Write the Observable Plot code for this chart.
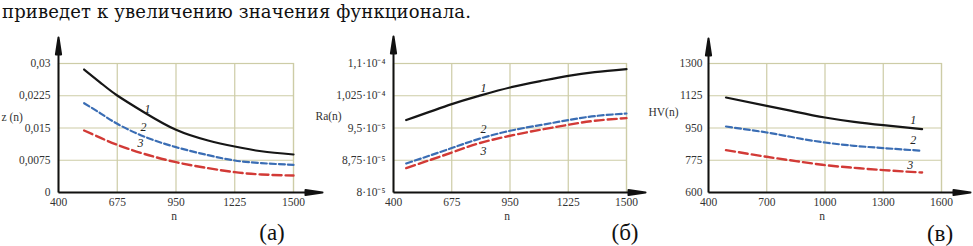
<!DOCTYPE html>
<html><head><meta charset="utf-8">
<script src="https://cdn.jsdelivr.net/npm/d3@7"></script>
<script src="https://cdn.jsdelivr.net/npm/@observablehq/plot@0.6"></script>
<style>
body{margin:0;background:#fff;width:973px;height:246px;overflow:hidden;position:relative}
.panel{position:absolute;top:0}
.panel svg{overflow:visible;background:transparent}
.panel svg, .panel svg text{font-family:"Liberation Serif", serif !important}
#caption{position:absolute;left:2px;top:3px;font-family:"DejaVu Serif";font-size:18px;line-height:18px;letter-spacing:0.15px;white-space:nowrap;color:#111}
.tag{position:absolute;font-family:"Liberation Serif";font-size:23px;line-height:23px;color:#111;transform:translate(-50%,-50%)}
</style></head><body>
<div id="caption">приведет к увеличению значения функционала.</div>
<div id="pa" class="panel" style="left:0px"></div>
<div id="pb" class="panel" style="left:325px"></div>
<div id="pc" class="panel" style="left:645px"></div>
<div class="tag" style="left:272px;top:232px">(а)</div>
<div class="tag" style="left:625px;top:232px">(б)</div>
<div class="tag" style="left:940px;top:233px">(в)</div>
<script>
// ---- Panel (а): z(n)
const nA = [520, 600, 675, 800, 950, 1100, 1225, 1350, 1500];
const zA1 = [0.0286, 0.0254, 0.02256, 0.01867, 0.01458, 0.0121, 0.0107, 0.0096, 0.00884];
const zA2 = [0.02077, 0.0183, 0.01597, 0.01302, 0.01054, 0.00868, 0.00744, 0.00682, 0.00643];
const zA3 = [0.01442, 0.01264, 0.01108, 0.0090, 0.00705, 0.00566, 0.00473, 0.00419, 0.00395];
const xTicksA = [400, 675, 950, 1225, 1500];
const yTicksA = [0, 0.0075, 0.015, 0.0225, 0.03];
const yTickLabelsA = ["0", "0,0075", "0,015", "0,0225", "0,03"];
const labelNA = [817, 798, 784];
const labelVA = [0.0193, 0.0151, 0.0114];

// ---- Panel (б): Ra(n)
const nB = [460, 675, 800, 950, 1100, 1225, 1350, 1500];
const raB1 = [9.684e-5, 1.0056e-4, 1.0242e-4, 1.0442e-4, 1.0598e-4, 1.0714e-4, 1.08e-4, 1.087e-4];
const raB2 = [8.674e-5, 9.033e-5, 9.242e-5, 9.435e-5, 9.574e-5, 9.684e-5, 9.777e-5, 9.837e-5];
const raB3 = [8.567e-5, 8.93e-5, 9.14e-5, 9.319e-5, 9.465e-5, 9.574e-5, 9.667e-5, 9.73e-5];
const xTicksB = [400, 675, 950, 1225, 1500];
const yTicksB = [8e-5, 8.75e-5, 9.5e-5, 1.025e-4, 1.1e-4];
const yTickLabelsB = ["8·10⁻⁵", "8,75·10⁻⁵", "9,5·10⁻⁵", "1,025·10⁻⁴", "1,1·10⁻⁴"];
const labelNB = [825, 825, 825];
const labelVB = [1.0435e-4, 9.481e-5, 8.97e-5];

// ---- Panel (в): HV(n)
const nC = [490, 700, 850, 1000, 1150, 1300, 1500];
const hvC1 = [1115.5, 1070.4, 1037.9, 1007, 983.6, 965.7, 944];
const hvC2 = [958, 925.6, 896.8, 871.3, 853.4, 840.9, 826.3];
const hvC3 = [830, 793.7, 770.4, 748.7, 734, 721.5, 708.5];
const xTicksC = [400, 700, 1000, 1300, 1600];
const yTicksC = [600, 775, 950, 1125, 1300];
const yTickLabelsC = ["600", "775", "950", "1125", "1300"];
const labelNC = [1455, 1455, 1439];
const labelVC = [994.5, 886, 750];

const curveNames = ["1", "2", "3"];

const gridColor = "#cdcca6";
const seriesStyle = [
  {stroke: "#161616", dash: null, width: 2.2},
  {stroke: "#3a6db4", dash: "6,3", width: 2.2},
  {stroke: "#d23a36", dash: "9,4", width: 2.4}
];

const arrowShape = {
  draw(context, l) {
    const h = 17, w = 2.6;
    context.moveTo(0, 0);
    context.lineTo(0, -l + h - 2);
    context.moveTo(0, -l);
    context.lineTo(w, -l + h);
    context.lineTo(-w, -l + h);
    context.closePath();
  }
};

function panel(cfg) {
  const rows = [];
  cfg.series.forEach((vals, si) => vals.forEach((v, i) => rows.push({n: cfg.n[i], v, s: si})));
  const labels = curveNames.map((name, i) => ({name, n: cfg.labelN[i], v: cfg.labelV[i]}));
  const x0 = cfg.xTicks[0], y0 = cfg.yTicks[0];
  const font = {fontFamily: "Liberation Serif"};
  const marks = [
    Plot.gridX(cfg.xTicks, {stroke: gridColor, strokeOpacity: 1, strokeWidth: 1.2}),
    Plot.gridY(cfg.yTicks, {stroke: gridColor, strokeOpacity: 1, strokeWidth: 1.2}),
    Plot.frame({stroke: gridColor, strokeWidth: 1.2}),
    Plot.axisX({ticks: cfg.xTicks, tickSize: 0, tickPadding: 5, tickFormat: d => String(d), label: null, fill: "#333", fontSize: 11.5, ...font}),
    Plot.axisY({ticks: cfg.yTicks, tickSize: 0, tickPadding: cfg.yPad, tickFormat: (d, i) => cfg.yTickLabels[i], label: null, fill: "#333", fontSize: 11.5, ...font}),
    ...seriesStyle.map((st, si) => Plot.line(rows.filter(r => r.s === si), {
      x: "n", y: "v", stroke: st.stroke, strokeWidth: st.width,
      strokeDasharray: st.dash, curve: "natural"
    })),
    Plot.text(labels, {x: "n", y: "v", text: "name", fontStyle: "italic", fontSize: 12, fill: "#222", ...font}),
    Plot.vector([0], {x: () => x0, y: () => y0, anchor: "start", rotate: 0, length: cfg.yArrow, shape: arrowShape, stroke: "#111", fill: "#111", strokeWidth: 2, strokeLinecap: "butt"}),
    Plot.vector([0], {x: () => x0, y: () => y0, anchor: "start", rotate: 90, length: cfg.xArrow, shape: arrowShape, stroke: "#111", fill: "#111", strokeWidth: 2, strokeLinecap: "butt"}),
    Plot.text([cfg.yLabel], {frameAnchor: "top-left", text: d => d, dx: cfg.yLabelDx, dy: cfg.yLabelDy, textAnchor: "start", lineAnchor: "middle", fontSize: 11.5, fill: "#333", ...font}),
    Plot.text(["n"], {frameAnchor: "bottom", text: d => d, dx: cfg.nDx, dy: 24, lineAnchor: "middle", fontSize: 11.5, fill: "#333", ...font})
  ];
  const chart = Plot.plot({
    width: cfg.width, height: 246,
    marginLeft: cfg.ml, marginRight: cfg.mr, marginTop: 63, marginBottom: 54,
    x: {domain: [cfg.xTicks[0], cfg.xTicks[cfg.xTicks.length - 1]]},
    y: {domain: [cfg.yTicks[0], cfg.yTicks[cfg.yTicks.length - 1]]},
    style: {fontFamily: "Liberation Serif", fontSize: "11.5px", background: "transparent", overflow: "visible"},
    marks
  });
  document.getElementById(cfg.el).appendChild(chart);
}

panel({el: "pa", width: 325, ml: 58, mr: 32, n: nA, series: [zA1, zA2, zA3],
  xTicks: xTicksA, yTicks: yTicksA, yTickLabels: yTickLabelsA, labelN: labelNA, labelV: labelVA,
  yLabel: "z (n)", yLabelDx: -57, yLabelDy: 54, nDx: -2, yPad: 8, yArrow: 155, xArrow: 264});
panel({el: "pb", width: 320, ml: 68, mr: 19, n: nB, series: [raB1, raB2, raB3],
  xTicks: xTicksB, yTicks: yTicksB, yTickLabels: yTickLabelsB, labelN: labelNB, labelV: labelVB,
  yLabel: "Ra(n)", yLabelDx: -78, yLabelDy: 53, nDx: -3, yPad: 8, yArrow: 156, xArrow: 252});
panel({el: "pc", width: 328, ml: 63, mr: 32, n: nC, series: [hvC1, hvC2, hvC3],
  xTicks: xTicksC, yTicks: yTicksC, yTickLabels: yTickLabelsC, labelN: labelNC, labelV: labelVC,
  yLabel: "HV(n)", yLabelDx: -60, yLabelDy: 49, nDx: -3, yPad: 6, yArrow: 154, xArrow: 262});
</script>
</body></html>
